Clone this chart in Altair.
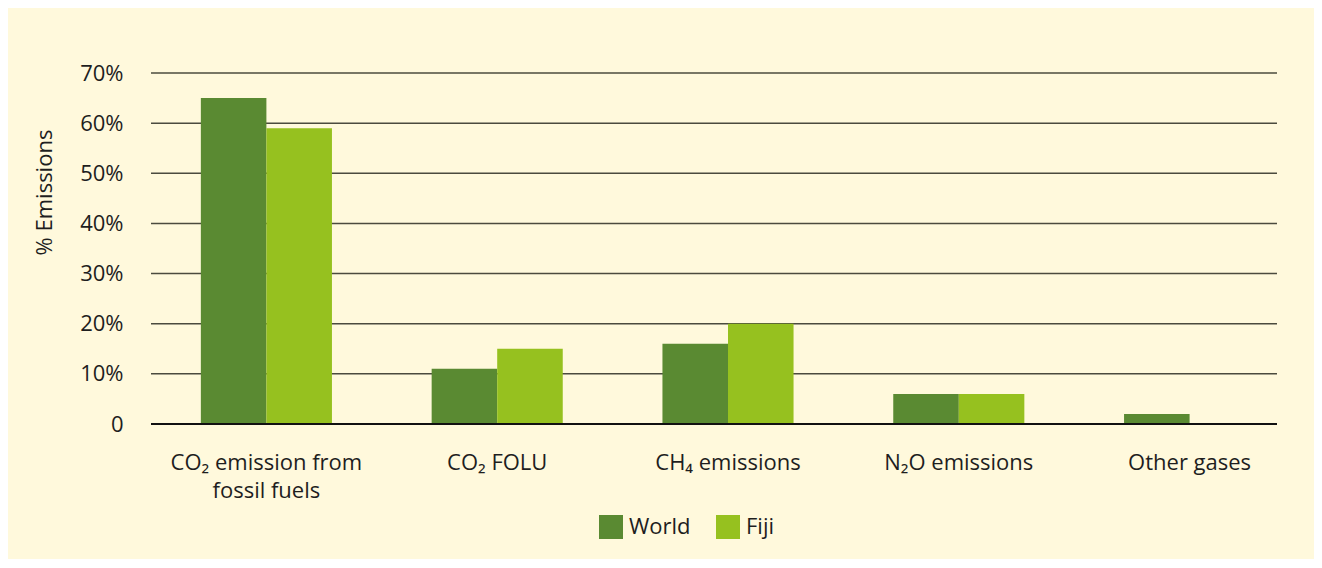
import altair as alt
import pandas as pd

categories = ["CO₂ emission from|fossil fuels", "CO₂ FOLU", "CH₄ emissions", "N₂O emissions", "Other gases"]
series = ["World", "Fiji"]
world = [65, 11, 16, 6, 2]
fiji = [59, 15, 20, 6, None]
y_ticks = [10, 20, 30, 40, 50, 60, 70]

rows = []
for c, w, f in zip(categories, world, fiji):
    rows.append({"cat": c, "series": "World", "value": w})
    if f is not None:
        rows.append({"cat": c, "series": "Fiji", "value": f})
df = pd.DataFrame(rows)

FONT = "Open Sans"
FS = 22
TXT = "#1e1e1e"
W, H = 1154, 351
GRID_END = 1126

yscale = alt.Scale(domain=[0, 70], nice=False)

grid = alt.Chart(pd.DataFrame({"v": y_ticks})).mark_rule(
    color="#4b4b3e", strokeWidth=1.5
).encode(
    y=alt.Y("v:Q", scale=yscale),
    x=alt.value(0),
    x2=alt.value(GRID_END),
)

bars = alt.Chart(df).mark_bar().encode(
    x=alt.X(
        "cat:N",
        sort=categories,
        title=None,
        scale=alt.Scale(paddingInner=0.432, paddingOuter=0.216),
        axis=alt.Axis(
            labelExpr="split(datum.label, '|')",
            labelAngle=0,
            labelFont=FONT,
            labelFontSize=FS,
            labelColor=TXT,
            labelLineHeight=28,
            labelPadding=28,
            labelBaseline="top",
            labelLimit=400,
            domain=False,
            ticks=False,
            grid=False,
        ),
    ),
    xOffset=alt.XOffset("series:N", sort=series,
                        scale=alt.Scale(paddingInner=0, paddingOuter=0)),
    y=alt.Y(
        "value:Q",
        scale=yscale,
        axis=alt.Axis(
            values=[0] + y_ticks,
            labelExpr="datum.value == 0 ? '0' : datum.value + '%'",
            labelFont=FONT,
            labelFontSize=FS,
            labelColor=TXT,
            labelPadding=28,
            domain=False,
            ticks=False,
            grid=False,
            title="% Emissions",
            titleFont=FONT,
            titleFontSize=FS,
            titleFontWeight="normal",
            titleColor=TXT,
            titleX=-107,
            titleY=119,
            titleAngle=270,
            titleAlign="center",
            titleBaseline="middle",
        ),
    ),
    color=alt.Color(
        "series:N",
        sort=series,
        scale=alt.Scale(domain=series, range=["#5a8a32", "#96c11f"]),
        legend=alt.Legend(
            title=None,
            orient="none",
            direction="horizontal",
            legendX=448,
            legendY=442,
            symbolType="square",
            symbolSize=576,
            symbolStrokeWidth=0,
            symbolOpacity=1,
            labelFont=FONT,
            labelFontSize=FS,
            labelColor=TXT,
            columnPadding=25,
            symbolOffset=0,
            labelOffset=6,
        ),
    ),
)

zero = alt.Chart(pd.DataFrame({"v": [0]})).mark_rule(
    color="#111111", strokeWidth=2
).encode(
    y=alt.Y("v:Q", scale=yscale),
    x=alt.value(0),
    x2=alt.value(GRID_END),
)

chart = alt.layer(grid, bars, zero).properties(
    width=W,
    height=H,
    background="#fff9dc",
    padding={"left": 143, "top": 65, "right": 9, "bottom": 135},
    autosize=alt.AutoSizeParams(type="none"),
).configure_view(stroke=None)

chart.save("out.html", embed_options={"renderer": "svg", "actions": False})
